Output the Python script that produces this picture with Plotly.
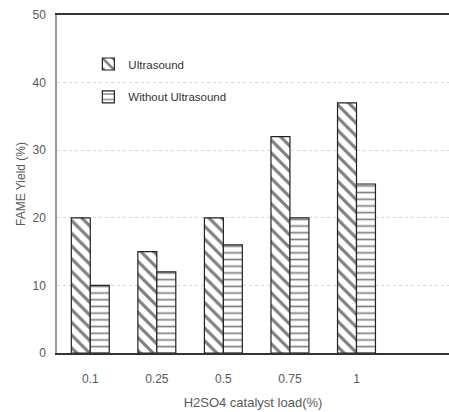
import plotly.graph_objects as go

categories = ["0.1", "0.25", "0.5", "0.75", "1"]
ultrasound = [20, 15, 20, 32, 37]
without_ultrasound = [10, 12, 16, 20, 25]
y_ticks = [0, 10, 20, 30, 40, 50]

narrow = "Liberation Sans Narrow, Liberation Sans, Arial, sans-serif"
txt = "#595959"

fig = go.Figure()
fig.add_trace(go.Bar(
    x=categories, y=ultrasound, name="Ultrasound", showlegend=True,
    marker=dict(color="white", line=dict(color="#222222", width=1.2),
                pattern=dict(shape="\\", fgcolor="black", bgcolor="white", size=9, solidity=0.35)),
    legend="legend",
))
fig.add_trace(go.Bar(
    x=categories, y=without_ultrasound, name="Without Ultrasound", showlegend=True,
    marker=dict(color="white", line=dict(color="#222222", width=1.2),
                pattern=dict(shape="-", fgcolor="black", bgcolor="white", size=6.7, solidity=0.25)),
    legend="legend2",
))

fig.update_layout(
    width=449, height=412,
    margin=dict(l=57, r=0, t=15, b=59),
    paper_bgcolor="white", plot_bgcolor="white",
    showlegend=True,
    barmode="group", bargap=0.43, bargroupgap=0,
    font=dict(family=narrow, size=12, color=txt),
    legend=dict(x=0.08, y=0.855, xanchor="left", yanchor="middle", visible=True,
                bgcolor="rgba(0,0,0,0)", font=dict(family=narrow, size=11.5, color="#333333")),
    legend2=dict(x=0.08, y=0.758, xanchor="left", yanchor="middle", visible=True,
                 bgcolor="rgba(0,0,0,0)", font=dict(family=narrow, size=11.5, color="#333333")),
    xaxis=dict(
        type="category", range=[-0.5, 5.39], automargin=False,
        showline=True, linecolor="#333333", linewidth=2, mirror=True,
        ticks="", ticklabelstandoff=14,
        tickfont=dict(family=narrow, size=12, color=txt),
        title=dict(text="H2SO4 catalyst load(%)", font=dict(family=narrow, size=13, color=txt), standoff=12),
        showgrid=False,
    ),
    yaxis=dict(
        range=[0, 50], tickvals=y_ticks, automargin=False,
        showline=True, linecolor="#999999", linewidth=1.5,
        showgrid=True, gridcolor="#d9d9d9", griddash="dot", gridwidth=1,
        zeroline=False, ticks="", ticklabelstandoff=7,
        tickfont=dict(family=narrow, size=12, color=txt),
        title=dict(text="FAME Yield (%)", font=dict(family="Liberation Sans, Arial, sans-serif", size=12, color=txt), standoff=4),
    ),
)

fig.write_html(
    "out.html",
    config={"displayModeBar": False},
    post_script="document.body.style.margin='0';document.body.style.overflow='hidden';",
)
